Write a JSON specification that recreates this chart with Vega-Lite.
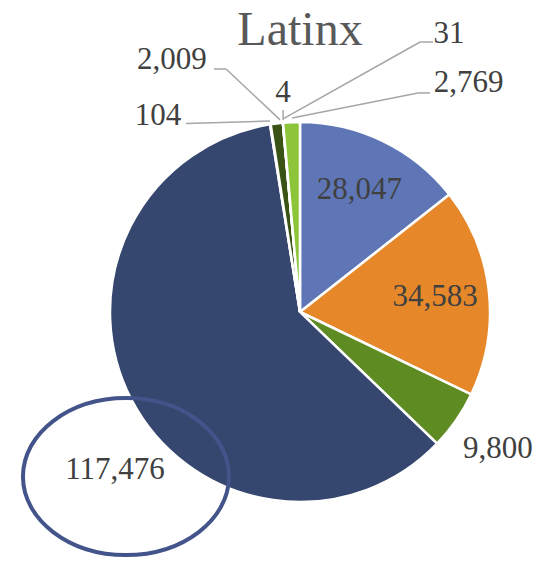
{
  "$schema": "https://vega.github.io/schema/vega-lite/v6.json",
  "width": 482,
  "height": 500,
  "autosize": {"type": "none"},
  "padding": {"left": 59, "top": 62, "right": 0, "bottom": 0},
  "background": "white",
  "config": {"view": {"stroke": null}},
  "title": {"text": "Latinx", "font": "Liberation Serif", "fontSize": 48, "fontWeight": "normal", "color": "#595959", "anchor": "middle", "baseline": "alphabetic", "offset": 0, "dy": 75},
  "data": {"values": [
    {"category": "Group 1", "value": 28047, "order": 1},
    {"category": "Group 2", "value": 34583, "order": 2},
    {"category": "Group 3", "value": 9800, "order": 3},
    {"category": "Group 4", "value": 117476, "order": 4},
    {"category": "Group 5", "value": 104, "order": 5},
    {"category": "Group 6", "value": 2009, "order": 6},
    {"category": "Group 7", "value": 4, "order": 7},
    {"category": "Group 8", "value": 31, "order": 8},
    {"category": "Group 9", "value": 2769, "order": 9}
  ]},
  "layer": [
    {
      "mark": {"type": "arc", "outerRadius": 190, "stroke": "white", "strokeWidth": 2.5},
      "encoding": {
        "theta": {"field": "value", "type": "quantitative", "stack": true},
        "order": {"field": "order", "type": "quantitative"},
        "color": {"field": "category", "type": "nominal", "legend": null,
          "scale": {"domain": ["Group 1", "Group 2", "Group 3", "Group 4", "Group 5", "Group 6", "Group 7", "Group 8", "Group 9"],
                    "range": ["#5E76B6", "#E6882A", "#5F8B23", "#35466F", "#2E3B5C", "#3A5213", "#A5A5A5", "#264478", "#8CC43A"]}}
      }
    },
    {
      "mark": {"type": "text", "radius": 136, "font": "Liberation Serif", "fontSize": 31, "color": "#404040", "align": "center", "baseline": "middle"},
      "encoding": {
        "theta": {"field": "value", "type": "quantitative", "stack": true},
        "order": {"field": "order", "type": "quantitative"},
        "text": {"field": "value", "type": "quantitative", "format": ","},
        "opacity": {"condition": {"test": "datum.order <= 2", "value": 1}, "value": 0}
      }
    },
    {
      "mark": {"type": "text", "radius": 241, "font": "Liberation Serif", "fontSize": 31, "color": "#404040", "align": "center", "baseline": "middle"},
      "encoding": {
        "theta": {"field": "value", "type": "quantitative", "stack": true},
        "order": {"field": "order", "type": "quantitative"},
        "text": {"field": "value", "type": "quantitative", "format": ","},
        "opacity": {"condition": {"test": "datum.order == 3", "value": 1}, "value": 0}
      }
    },
    {
      "transform": [{"filter": "datum.order == 4"}],
      "mark": {"type": "point", "shape": "M -1 0 A 1 0.762 0 1 1 1 0 A 1 0.762 0 1 1 -1 0 Z", "size": 42436, "filled": false, "stroke": "#42548A", "strokeWidth": 4, "opacity": 1},
      "encoding": {
        "x": {"datum": -0.916, "type": "quantitative", "scale": {"domain": [-1.2684, 1.2684], "nice": false, "zero": false}, "axis": null},
        "y": {"datum": -0.866, "type": "quantitative", "scale": {"domain": [-1.3158, 1.3158], "nice": false, "zero": false}, "axis": null}
      }
    },
    {
      "transform": [{"filter": "datum.order == 4"}],
      "mark": {"type": "text", "font": "Liberation Serif", "fontSize": 31, "color": "#404040", "align": "center", "baseline": "middle"},
      "encoding": {
        "x": {"datum": -0.974, "type": "quantitative", "scale": {"domain": [-1.2684, 1.2684], "nice": false, "zero": false}, "axis": null},
        "y": {"datum": -0.832, "type": "quantitative", "scale": {"domain": [-1.3158, 1.3158], "nice": false, "zero": false}, "axis": null},
        "text": {"field": "value", "type": "quantitative", "format": ","}
      }
    },
    {
      "transform": [{"filter": "datum.order == 5"}],
      "mark": {"type": "rule", "color": "#A6A6A6", "strokeWidth": 1.5},
      "encoding": {
        "x": {"datum": -0.600, "type": "quantitative", "scale": {"domain": [-1.2684, 1.2684], "nice": false, "zero": false}, "axis": null},
        "y": {"datum": 0.992, "type": "quantitative", "scale": {"domain": [-1.3158, 1.3158], "nice": false, "zero": false}, "axis": null},
        "x2": {"datum": -0.158},
        "y2": {"datum": 1.005}
      }
    },
    {
      "transform": [{"filter": "datum.order == 6"}],
      "mark": {"type": "rule", "color": "#A6A6A6", "strokeWidth": 1.5},
      "encoding": {
        "x": {"datum": -0.453, "type": "quantitative", "scale": {"domain": [-1.2684, 1.2684], "nice": false, "zero": false}, "axis": null},
        "y": {"datum": 1.279, "type": "quantitative", "scale": {"domain": [-1.3158, 1.3158], "nice": false, "zero": false}, "axis": null},
        "x2": {"datum": -0.389},
        "y2": {"datum": 1.279}
      }
    },
    {
      "transform": [{"filter": "datum.order == 6"}],
      "mark": {"type": "rule", "color": "#A6A6A6", "strokeWidth": 1.5},
      "encoding": {
        "x": {"datum": -0.389, "type": "quantitative", "scale": {"domain": [-1.2684, 1.2684], "nice": false, "zero": false}, "axis": null},
        "y": {"datum": 1.279, "type": "quantitative", "scale": {"domain": [-1.3158, 1.3158], "nice": false, "zero": false}, "axis": null},
        "x2": {"datum": -0.105},
        "y2": {"datum": 1.011}
      }
    },
    {
      "transform": [{"filter": "datum.order == 7"}],
      "mark": {"type": "rule", "color": "#A6A6A6", "strokeWidth": 1.5},
      "encoding": {
        "x": {"datum": -0.089, "type": "quantitative", "scale": {"domain": [-1.2684, 1.2684], "nice": false, "zero": false}, "axis": null},
        "y": {"datum": 1.063, "type": "quantitative", "scale": {"domain": [-1.3158, 1.3158], "nice": false, "zero": false}, "axis": null},
        "x2": {"datum": -0.089},
        "y2": {"datum": 1.011}
      }
    },
    {
      "transform": [{"filter": "datum.order == 8"}],
      "mark": {"type": "rule", "color": "#A6A6A6", "strokeWidth": 1.5},
      "encoding": {
        "x": {"datum": 0.632, "type": "quantitative", "scale": {"domain": [-1.2684, 1.2684], "nice": false, "zero": false}, "axis": null},
        "y": {"datum": 1.421, "type": "quantitative", "scale": {"domain": [-1.3158, 1.3158], "nice": false, "zero": false}, "axis": null},
        "x2": {"datum": 0.700},
        "y2": {"datum": 1.421}
      }
    },
    {
      "transform": [{"filter": "datum.order == 8"}],
      "mark": {"type": "rule", "color": "#A6A6A6", "strokeWidth": 1.5},
      "encoding": {
        "x": {"datum": 0.632, "type": "quantitative", "scale": {"domain": [-1.2684, 1.2684], "nice": false, "zero": false}, "axis": null},
        "y": {"datum": 1.421, "type": "quantitative", "scale": {"domain": [-1.3158, 1.3158], "nice": false, "zero": false}, "axis": null},
        "x2": {"datum": -0.089},
        "y2": {"datum": 1.016}
      }
    },
    {
      "transform": [{"filter": "datum.order == 9"}],
      "mark": {"type": "rule", "color": "#A6A6A6", "strokeWidth": 1.5},
      "encoding": {
        "x": {"datum": 0.621, "type": "quantitative", "scale": {"domain": [-1.2684, 1.2684], "nice": false, "zero": false}, "axis": null},
        "y": {"datum": 1.153, "type": "quantitative", "scale": {"domain": [-1.3158, 1.3158], "nice": false, "zero": false}, "axis": null},
        "x2": {"datum": 0.684},
        "y2": {"datum": 1.153}
      }
    },
    {
      "transform": [{"filter": "datum.order == 9"}],
      "mark": {"type": "rule", "color": "#A6A6A6", "strokeWidth": 1.5},
      "encoding": {
        "x": {"datum": 0.621, "type": "quantitative", "scale": {"domain": [-1.2684, 1.2684], "nice": false, "zero": false}, "axis": null},
        "y": {"datum": 1.153, "type": "quantitative", "scale": {"domain": [-1.3158, 1.3158], "nice": false, "zero": false}, "axis": null},
        "x2": {"datum": -0.042},
        "y2": {"datum": 1.021}
      }
    },
    {
      "transform": [{"filter": "datum.order == 5"}],
      "mark": {"type": "text", "font": "Liberation Serif", "fontSize": 31, "color": "#404040", "align": "center", "baseline": "middle"},
      "encoding": {
        "x": {"datum": -0.747, "type": "quantitative", "scale": {"domain": [-1.2684, 1.2684], "nice": false, "zero": false}, "axis": null},
        "y": {"datum": 1.034, "type": "quantitative", "scale": {"domain": [-1.3158, 1.3158], "nice": false, "zero": false}, "axis": null},
        "text": {"field": "value", "type": "quantitative", "format": ","}
      }
    },
    {
      "transform": [{"filter": "datum.order == 6"}],
      "mark": {"type": "text", "font": "Liberation Serif", "fontSize": 31, "color": "#404040", "align": "center", "baseline": "middle"},
      "encoding": {
        "x": {"datum": -0.674, "type": "quantitative", "scale": {"domain": [-1.2684, 1.2684], "nice": false, "zero": false}, "axis": null},
        "y": {"datum": 1.324, "type": "quantitative", "scale": {"domain": [-1.3158, 1.3158], "nice": false, "zero": false}, "axis": null},
        "text": {"field": "value", "type": "quantitative", "format": ","}
      }
    },
    {
      "transform": [{"filter": "datum.order == 7"}],
      "mark": {"type": "text", "font": "Liberation Serif", "fontSize": 31, "color": "#404040", "align": "center", "baseline": "middle"},
      "encoding": {
        "x": {"datum": -0.089, "type": "quantitative", "scale": {"domain": [-1.2684, 1.2684], "nice": false, "zero": false}, "axis": null},
        "y": {"datum": 1.153, "type": "quantitative", "scale": {"domain": [-1.3158, 1.3158], "nice": false, "zero": false}, "axis": null},
        "text": {"field": "value", "type": "quantitative", "format": ","}
      }
    },
    {
      "transform": [{"filter": "datum.order == 8"}],
      "mark": {"type": "text", "font": "Liberation Serif", "fontSize": 31, "color": "#404040", "align": "center", "baseline": "middle"},
      "encoding": {
        "x": {"datum": 0.784, "type": "quantitative", "scale": {"domain": [-1.2684, 1.2684], "nice": false, "zero": false}, "axis": null},
        "y": {"datum": 1.463, "type": "quantitative", "scale": {"domain": [-1.3158, 1.3158], "nice": false, "zero": false}, "axis": null},
        "text": {"field": "value", "type": "quantitative", "format": ","}
      }
    },
    {
      "transform": [{"filter": "datum.order == 9"}],
      "mark": {"type": "text", "font": "Liberation Serif", "fontSize": 31, "color": "#404040", "align": "center", "baseline": "middle"},
      "encoding": {
        "x": {"datum": 0.887, "type": "quantitative", "scale": {"domain": [-1.2684, 1.2684], "nice": false, "zero": false}, "axis": null},
        "y": {"datum": 1.205, "type": "quantitative", "scale": {"domain": [-1.3158, 1.3158], "nice": false, "zero": false}, "axis": null},
        "text": {"field": "value", "type": "quantitative", "format": ","}
      }
    }
  ]
}
